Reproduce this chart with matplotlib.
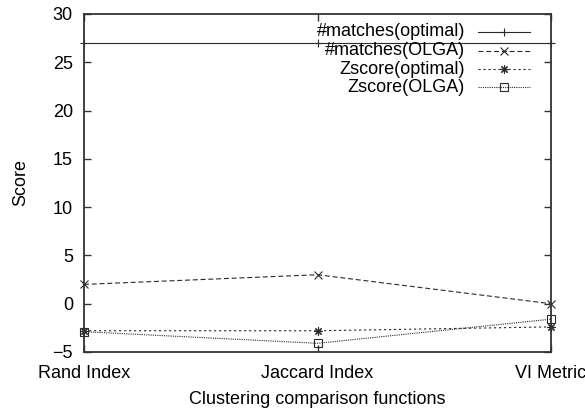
import matplotlib
matplotlib.use("Agg")
import matplotlib.pyplot as plt

plt.rcParams["font.family"] = ["Liberation Sans", "DejaVu Sans"]

categories = ["Rand Index", "Jaccard Index", "VI Metric"]
matches_optimal = [27, 27, 27]
matches_olga = [2.0, 3.0, 0.0]
zscore_optimal = [-2.8, -2.8, -2.4]
zscore_olga = [-2.9, -4.1, -1.6]

series = [
    ("#matches(optimal)", matches_optimal, "-", "+"),
    ("#matches(OLGA)", matches_olga, (0, (4.5, 2.5)), "x"),
    ("Zscore(optimal)", zscore_optimal, (0, (2, 2.5)), (8, 2, 0)),
    ("Zscore(OLGA)", zscore_olga, (0, (1, 1)), "s"),
]

fig = plt.figure(figsize=(5.85, 4.12), dpi=100)
ax = fig.add_axes([84 / 585, 60 / 412, (551 - 84) / 585, (352 - 14) / 412])

x = list(range(len(categories)))
lc = "#2a2a2a"

def style(marker):
    kw = dict(color=lc, linewidth=0.8, markersize=6, markeredgewidth=0.8,
              marker=marker, clip_on=False)
    if marker == "s":
        kw.update(markerfacecolor="none", markersize=5.5)
    return kw

for label, vals, ls, mk in series:
    ax.plot(x, vals, linestyle=ls, **style(mk))

ax.set_xlim(0, 2)
ax.set_ylim(-5, 30)
ax.set_xticks(x)
ax.set_xticklabels(categories)
ax.set_yticks(range(-5, 31, 5))
ax.tick_params(direction="in", top=True, right=True, length=5, width=1,
               labelsize=13, colors="#333333", labelcolor="black", pad=8)
ax.tick_params(axis="x", pad=9)
for s in ax.spines.values():
    s.set_color("#333333")
    s.set_linewidth(1.3)

ax.set_xlabel("Clustering comparison functions", fontsize=13, labelpad=7)
ax.set_ylabel("Score", fontsize=13, labelpad=17)

# key, drawn in axes-fraction coordinates at the top right
row_y = [0.948, 0.892, 0.837, 0.783]
text_x, h0, h1 = 0.816, 0.844, 0.955
for (label, vals, ls, mk), yy in zip(series, row_y):
    ax.text(text_x, yy, label, transform=ax.transAxes, ha="right",
            va="center", fontsize=13)
    ax.plot([h0, h1], [yy, yy], linestyle=ls, color=lc, linewidth=0.8,
            transform=ax.transAxes, clip_on=False)
    kw = style(mk)
    kw.pop("clip_on")
    ax.plot([(h0 + h1) / 2], [yy], linestyle="none", transform=ax.transAxes,
            clip_on=False, **kw)

fig.savefig("out.png", dpi=100)
